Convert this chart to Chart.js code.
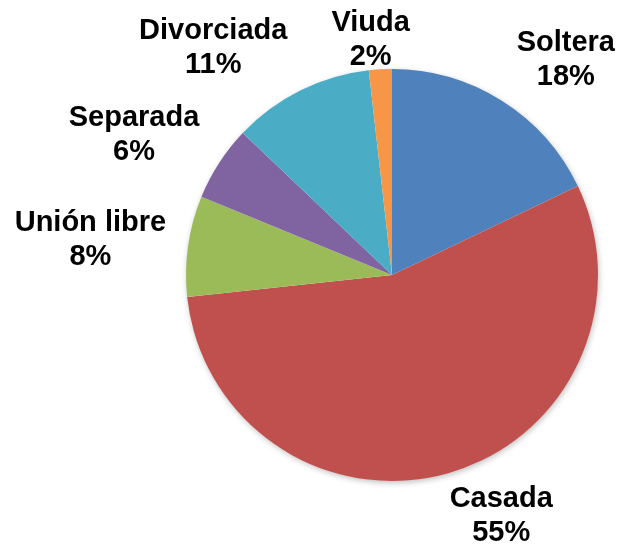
<!DOCTYPE html>
<html>
<head>
<meta charset="utf-8">
<script src="https://cdn.jsdelivr.net/npm/chart.js@4/dist/chart.umd.min.js"></script>
<style>
  html, body { margin: 0; padding: 0; background: #ffffff; }
  #wrap { width: 618px; height: 544px; position: relative; }
</style>
</head>
<body>
<div id="wrap"><canvas id="c" width="618" height="544"></canvas></div>
<script>
// ---- Data ----
const categories = ['Soltera', 'Casada', 'Unión libre', 'Separada', 'Divorciada', 'Viuda'];
const percentages = [17.9, 55.4, 7.9, 5.9, 11.1, 1.8];
const sliceColors = ['#4F81BD', '#C0504D', '#9BBB59', '#8064A2', '#4BACC6', '#F79646'];

// Label layout (relative to each slice's mid-angle): radius factor and angle shift in degrees
const labelLayout = [
  { k: 1.352, da: 6.4 },
  { k: 1.272, da: -8.8 },
  { k: 1.475, da: -1.1 },
  { k: 1.431, da: -4.0 },
  { k: 1.411, da: -11.5 },
  { k: 1.155, da: -1.9 }
];

const shadowPlugin = {
  id: 'pieShadow',
  beforeDatasetsDraw(chart) {
    const arc = chart.getDatasetMeta(0).data[0];
    if (!arc) return;
    const { x, y, outerRadius } = arc.getProps(['x', 'y', 'outerRadius'], true);
    const ctx = chart.ctx;
    ctx.save();
    ctx.shadowColor = 'rgba(0,0,0,0.28)';
    ctx.shadowBlur = 6;
    ctx.shadowOffsetX = 1;
    ctx.shadowOffsetY = 2;
    ctx.fillStyle = '#ffffff';
    ctx.beginPath();
    ctx.arc(x, y, outerRadius - 0.5, 0, Math.PI * 2);
    ctx.fill();
    ctx.restore();
  }
};

const outsideLabels = {
  id: 'outsideLabels',
  afterDatasetsDraw(chart) {
    const ctx = chart.ctx;
    const meta = chart.getDatasetMeta(0);
    const values = chart.data.datasets[0].data;
    const total = values.reduce((a, b) => a + b, 0);
    const fontSize = 29;
    const capH = fontSize * 0.716;
    const lineGap = 34;
    ctx.save();
    ctx.font = 'bold ' + fontSize + 'px "Liberation Sans", Arial, sans-serif';
    ctx.fillStyle = '#000000';
    ctx.textAlign = 'center';
    ctx.textBaseline = 'alphabetic';
    meta.data.forEach((arc, i) => {
      const p = arc.getProps(['x', 'y', 'startAngle', 'endAngle', 'outerRadius'], true);
      const mid = (p.startAngle + p.endAngle) / 2;
      const lay = labelLayout[i];
      const ang = mid + lay.da * Math.PI / 180;
      const cx = p.x + Math.cos(ang) * p.outerRadius * lay.k;
      const cy = p.y + Math.sin(ang) * p.outerRadius * lay.k;
      const blockH = capH + lineGap;
      const base1 = cy - blockH / 2 + capH;
      const pct = Math.round(values[i] / total * 100) + '%';
      ctx.fillText(chart.data.labels[i], cx, base1);
      ctx.fillText(pct, cx, base1 + lineGap);
    });
    ctx.restore();
  }
};

new Chart(document.getElementById('c'), {
  type: 'pie',
  data: {
    labels: categories,
    datasets: [{
      data: percentages,
      backgroundColor: sliceColors,
      borderWidth: 0,
      hoverOffset: 0
    }]
  },
  options: {
    responsive: false,
    animation: false,
    layout: { padding: { left: 186, right: 20, top: 69, bottom: 63 } },
    plugins: {
      legend: { display: false },
      tooltip: { enabled: false }
    }
  },
  plugins: [shadowPlugin, outsideLabels]
});
</script>
</body>
</html>
